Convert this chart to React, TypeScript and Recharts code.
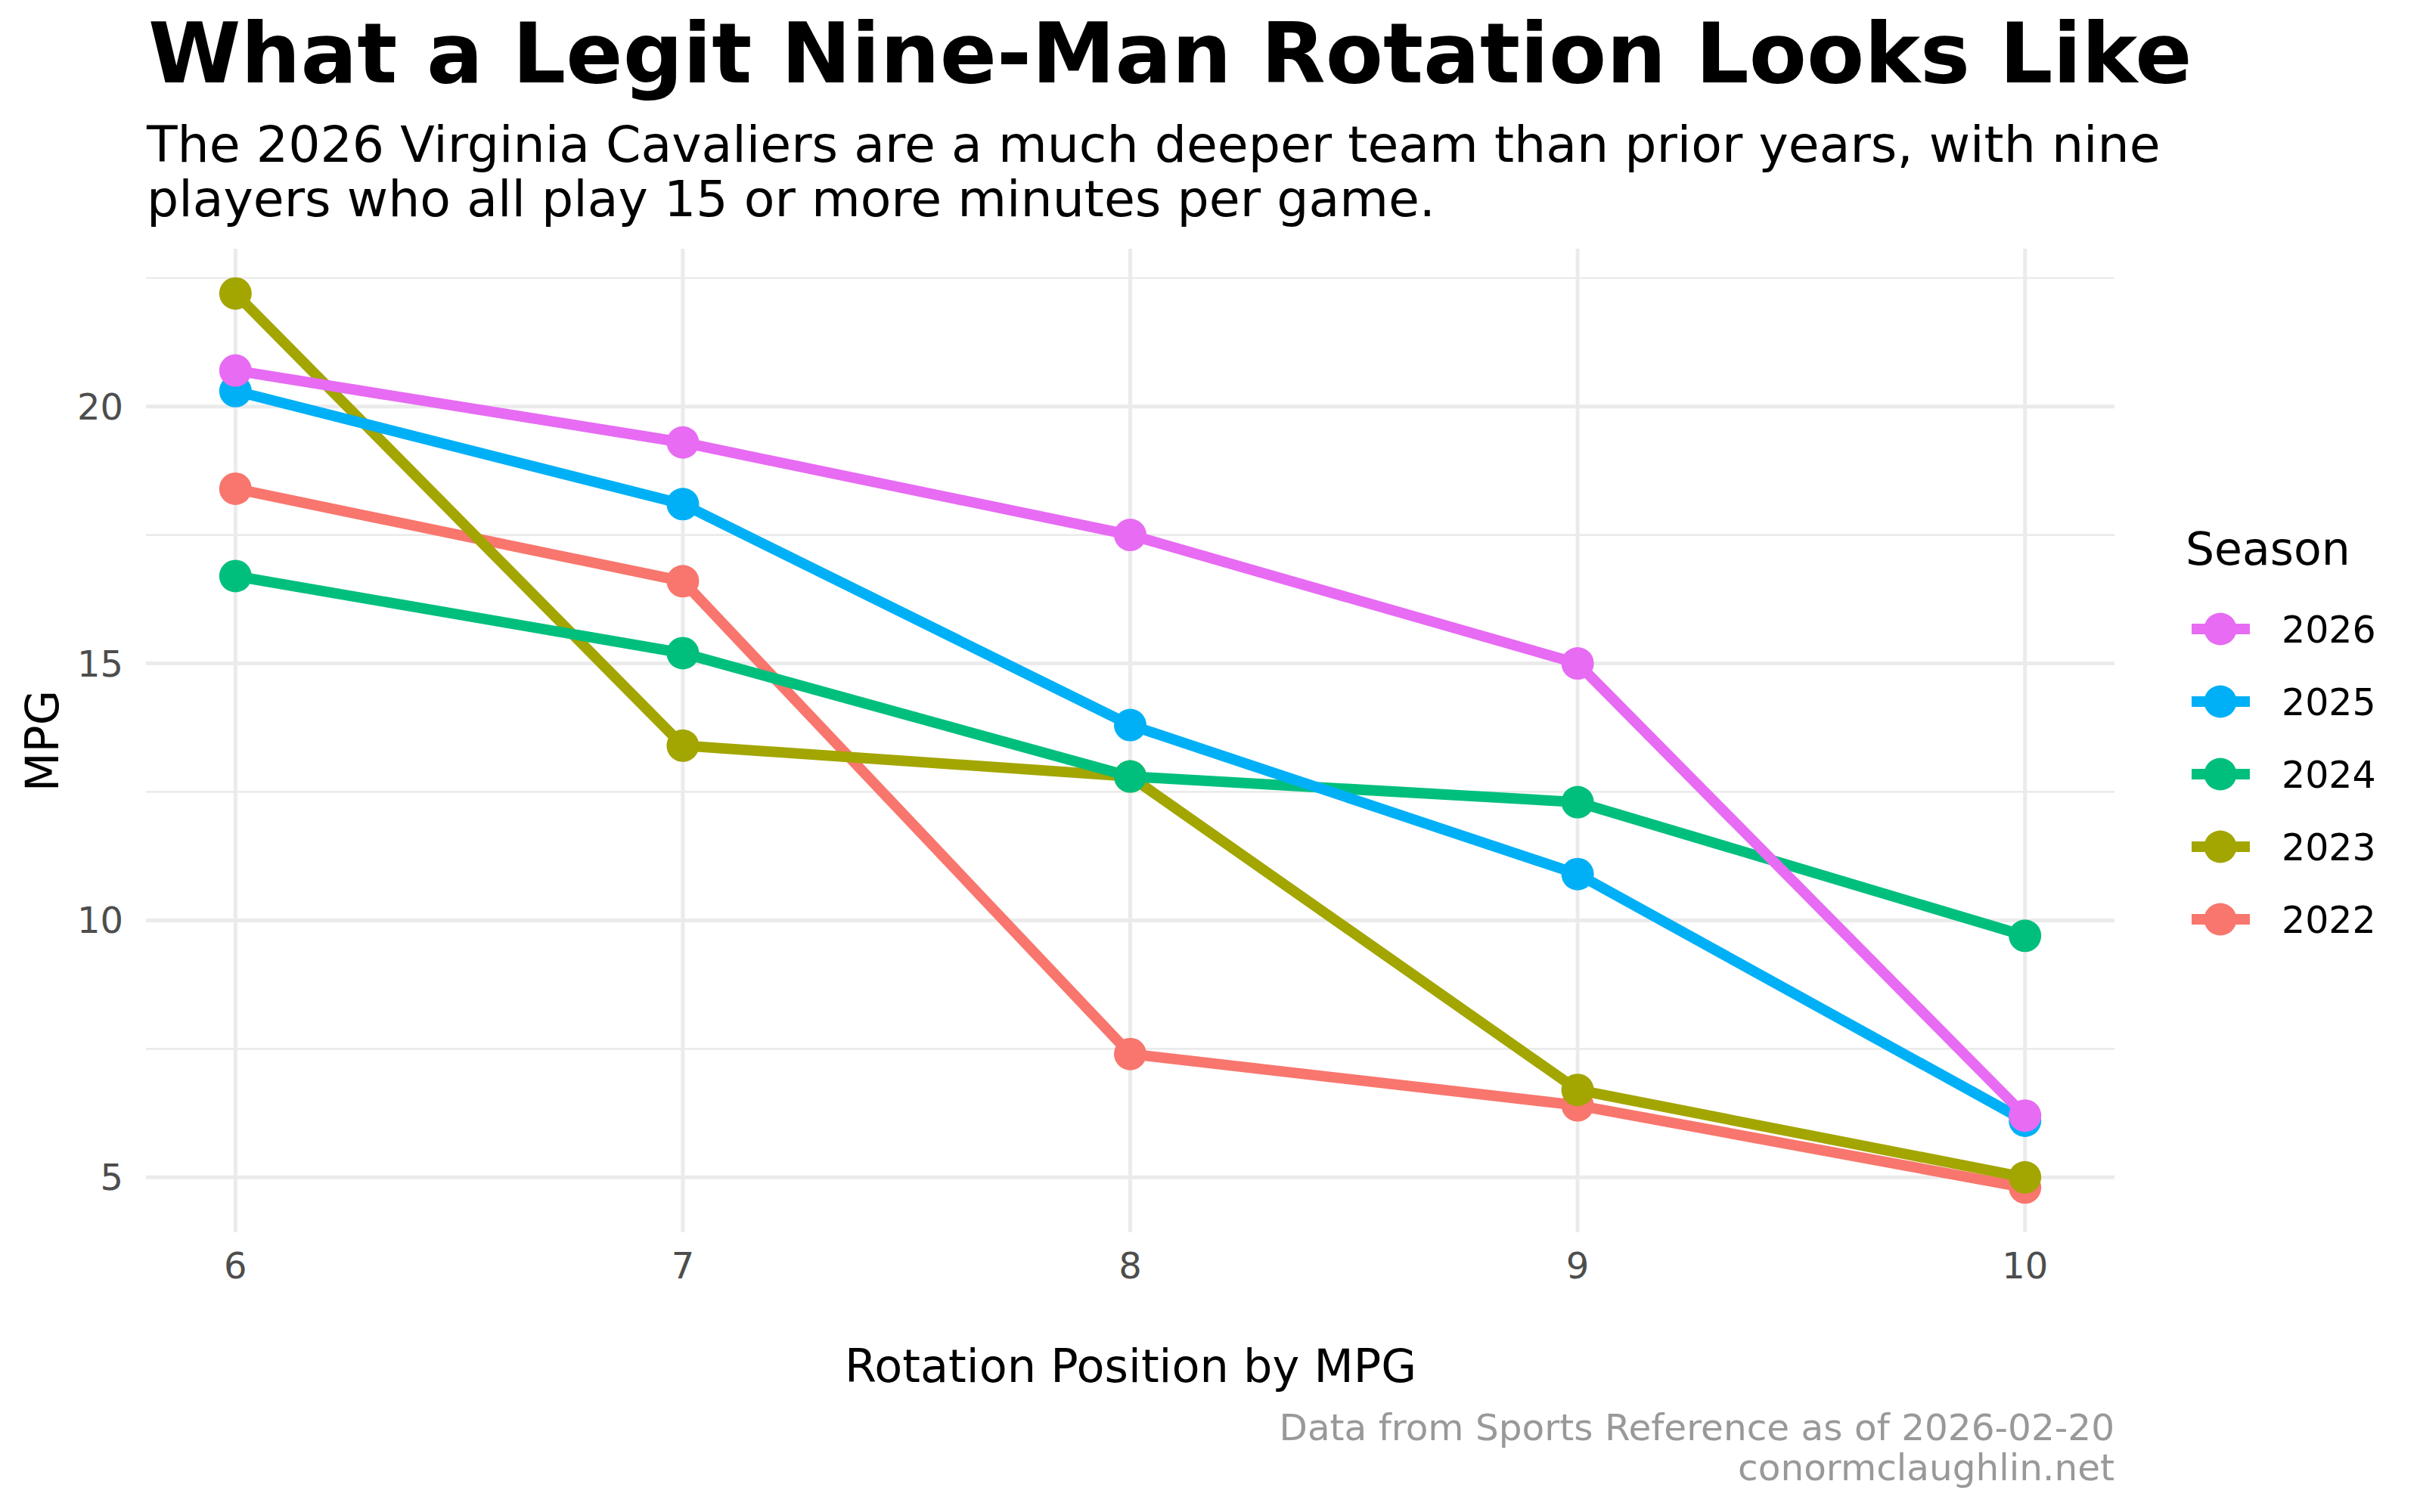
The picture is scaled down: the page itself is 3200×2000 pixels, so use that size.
import { LineChart, Line, XAxis, YAxis, CartesianGrid } from "recharts";

const positions = [6, 7, 8, 9, 10];
const mpg2026 = [20.7, 19.3, 17.5, 15.0, 6.2];
const mpg2025 = [20.3, 18.1, 13.8, 10.9, 6.1];
const mpg2024 = [16.7, 15.2, 12.8, 12.3, 9.7];
const mpg2023 = [22.2, 13.4, 12.8, 6.7, 5.0];
const mpg2022 = [18.4, 16.6, 7.4, 6.4, 4.8];

const xTicks = [6, 7, 8, 9, 10];
const yTicks = [5, 10, 15, 20];
const yMinor = [7.5, 12.5, 17.5, 22.5];

// legend order (top to bottom); drawing order is the reverse
const seasons = [
  { key: "s2026", label: "2026", color: "#E76BF3", values: mpg2026 },
  { key: "s2025", label: "2025", color: "#00B0F6", values: mpg2025 },
  { key: "s2024", label: "2024", color: "#00BF7D", values: mpg2024 },
  { key: "s2023", label: "2023", color: "#A3A500", values: mpg2023 },
  { key: "s2022", label: "2022", color: "#F8766D", values: mpg2022 },
];
const drawOrder = [...seasons].reverse();

const rows = positions.map((pos, i) => {
  const row: Record<string, number> = { pos };
  seasons.forEach((s) => (row[s.key] = s.values[i]));
  return row;
});

const font = "'DejaVu Sans', sans-serif";

export default function App() {
  return (
    <div style={{ position: "relative", width: 3200, height: 2000, background: "#fff", fontFamily: font }}>
      <style>{"body{margin:0}"}</style>
      <LineChart
        width={3200}
        height={2000}
        data={rows}
        margin={{ top: 329, right: 404, bottom: 310, left: 73 }}
      >
        <CartesianGrid horizontalValues={yMinor} vertical={false} syncWithTicks stroke="#EBEBEB" strokeWidth={2.7} />
        <CartesianGrid syncWithTicks stroke="#EBEBEB" strokeWidth={5} />
        <XAxis
          type="number"
          dataKey="pos"
          domain={[5.8, 10.2]}
          ticks={xTicks}
          allowDataOverflow
          axisLine={false}
          tickLine={false}
          tickSize={0}
          tickMargin={27}
          height={60}
          tick={{ fontSize: 48, fill: "#4D4D4D", fontFamily: font }}
        />
        <YAxis
          type="number"
          domain={[3.93, 23.07]}
          ticks={yTicks}
          allowDataOverflow
          axisLine={false}
          tickLine={false}
          tickSize={0}
          tickMargin={30}
          width={120}
          tick={{ fontSize: 48, fill: "#4D4D4D", fontFamily: font }}
        />
        {drawOrder.map((s) => (
          <Line
            key={"line-" + s.key}
            dataKey={s.key}
            stroke={s.color}
            strokeWidth={14}
            dot={false}
            activeDot={false}
            isAnimationActive={false}
          />
        ))}
        {drawOrder.map((s) => (
          <Line
            key={"pt-" + s.key}
            dataKey={s.key}
            stroke="none"
            strokeWidth={0}
            dot={{ r: 21.5, fill: s.color, stroke: "none" }}
            activeDot={false}
            isAnimationActive={false}
          />
        ))}
      </LineChart>

      <svg
        width={3200}
        height={2000}
        style={{ position: "absolute", left: 0, top: 0, pointerEvents: "none" }}
        fontFamily={font}
      >
        <text x={196} y={109} fontSize={111} fontWeight="bold" fill="#000">
          What a Legit Nine-Man Rotation Looks Like
        </text>
        <text x={194} y={214} fontSize={66.5} fill="#000">
          The 2026 Virginia Cavaliers are a much deeper team than prior years, with nine
        </text>
        <text x={194} y={286} fontSize={66.5} fill="#000">
          players who all play 15 or more minutes per game.
        </text>

        <text x={77} y={980} fontSize={60} textAnchor="middle" transform="rotate(-90 77 980)" fill="#000">
          MPG
        </text>
        <text x={1495} y={1828} fontSize={60.5} textAnchor="middle" fill="#000">
          Rotation Position by MPG
        </text>

        <text x={2796} y={1905} fontSize={48.5} textAnchor="end" fill="#999999">
          Data from Sports Reference as of 2026-02-20
        </text>
        <text x={2796} y={1958} fontSize={48.5} textAnchor="end" fill="#999999">
          conormclaughlin.net
        </text>

        <text x={2890} y={747} fontSize={60} fill="#000">
          Season
        </text>
        {seasons.map((s, i) => {
          const cy = 832 + i * 96;
          return (
            <g key={"leg-" + s.key}>
              <line x1={2898} x2={2975} y1={cy} y2={cy} stroke={s.color} strokeWidth={14} />
              <circle cx={2936} cy={cy} r={21.5} fill={s.color} />
              <text x={3017} y={cy + 18} fontSize={49} fill="#000">
                {s.label}
              </text>
            </g>
          );
        })}
      </svg>
    </div>
  );
}
